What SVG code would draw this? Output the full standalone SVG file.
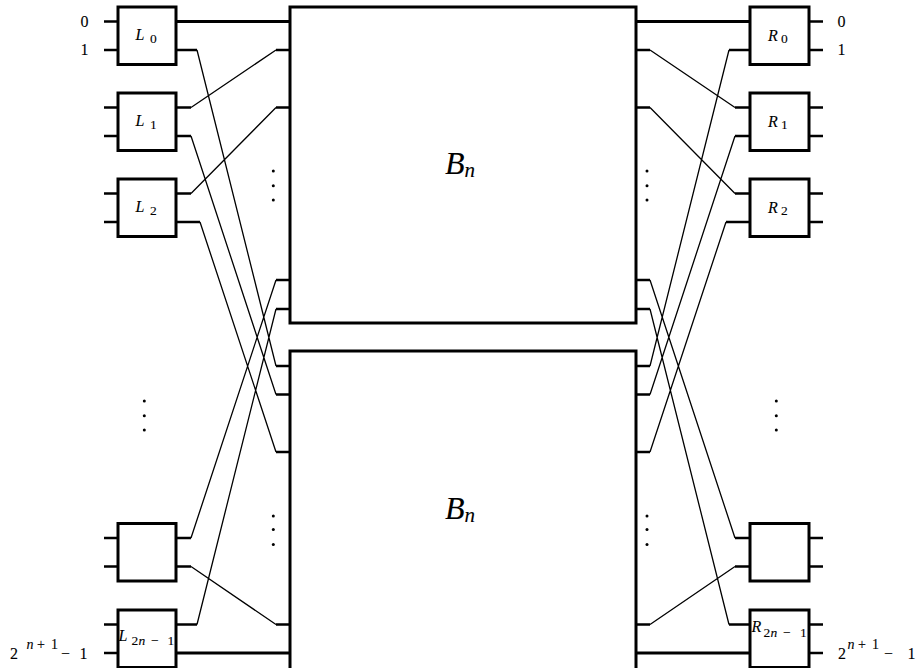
<svg xmlns="http://www.w3.org/2000/svg" width="917" height="668" viewBox="0 0 917 668">
  <style>
    .box { fill: #fff; stroke: #000; stroke-width: 3; }
    .bus { fill: none; stroke: #000; stroke-width: 3; }
    .stub { fill: none; stroke: #000; stroke-width: 2.5; }
    .wire { fill: none; stroke: #000; stroke-width: 1.3; }
    .dot { fill: #000; }
    text { font-family: "Liberation Serif", "DejaVu Serif", serif; fill: #000; stroke: #000; stroke-width: 0.1; }
    .lbl { font-size: 16px; }
    .sub { font-size: 13.5px; font-style: normal; }
    .sup { font-size: 14px; font-style: normal; }
    .it { font-style: italic; }
    .big { font-size: 32px; font-style: italic; }
    .bigsub { font-size: 21px; font-style: italic; }
  </style>

  <!-- wiring between the switch columns and the two B_n blocks -->
  <g id="connectors">
    <!-- straight thick links -->
    <path class="bus" d="M176 21.5H290 M176 653H290 M636 21.5H750 M636 653H750"/>
    <!-- outer input / output stubs -->
    <path class="stub" d="M104 21.5H118 M104 50H118 M104 107.5H118 M104 136H118 M104 193.5H118 M104 222H118
      M104 538H118 M104 566.5H118 M104 624.5H118 M104 653H118"/>
    <path class="stub" d="M809 21.5H823 M809 50H823 M809 107.5H823 M809 136H823 M809 193.5H823 M809 222H823
      M809 538H823 M809 566.5H823 M809 624.5H823 M809 653H823"/>
    <!-- left inner stubs -->
    <path class="stub" d="M176 50H197 M176 107.5H191 M176 136H191 M176 193.5H191 M176 222H200
      M176 538H191 M176 566.5H191 M176 624.5H197"/>
    <path class="stub" d="M276 50H290 M276 107.5H290 M276 280H290 M276 309H290
      M276 366H290 M276 394.5H290 M276 452H290 M276 624.5H290"/>
    <!-- right inner stubs -->
    <path class="stub" d="M636 50H650 M636 107.5H650 M636 280H650 M636 309H650
      M636 366H650 M636 394.5H650 M636 452H650 M636 624.5H650"/>
    <path class="stub" d="M729 50H750 M735 107.5H750 M735 136H750 M735 193.5H750 M726 222H750
      M735 538H750 M735 566.5H750 M729 624.5H750"/>
    <!-- left shuffle -->
    <path class="wire" d="M197 50L276 366 M191 107.5L276 50 M191 136L276 394.5 M191 193.5L276 107.5
      M200 222L276 452 M191 538L276 280 M191 566.5L276 624.5 M197 624.5L276 309"/>
    <!-- right unshuffle -->
    <path class="wire" d="M650 50L735 107.5 M650 107.5L735 193.5 M650 280L735 538 M650 309L729 624.5
      M650 366L729 50 M650 394.5L735 136 M650 452L726 222 M650 624.5L735 566.5"/>
  </g>

  <!-- recursive blocks -->
  <g id="B_top">
    <rect class="box" x="290" y="7" width="346" height="316"/>
    <text class="big" x="445" y="173.5">B<tspan class="bigsub" dy="3.5">n</tspan></text>
  </g>
  <g id="B_bottom">
    <rect class="box" x="290" y="351" width="346" height="320"/>
    <text class="big" x="445" y="518.5">B<tspan class="bigsub" dy="3.5">n</tspan></text>
  </g>

  <!-- left column of 2x2 switches -->
  <g id="L0">
    <rect class="box" x="118" y="7" width="58" height="57.5"/>
    <text class="lbl it" x="135.5" y="40">L<tspan class="sub" x="150" dy="3">0</tspan></text>
  </g>
  <g id="L1">
    <rect class="box" x="118" y="93" width="58" height="57.5"/>
    <text class="lbl it" x="135.5" y="126">L<tspan class="sub" x="150" dy="3">1</tspan></text>
  </g>
  <g id="L2">
    <rect class="box" x="118" y="179" width="58" height="57.5"/>
    <text class="lbl it" x="135.5" y="212">L<tspan class="sub" x="150" dy="3">2</tspan></text>
  </g>
  <g id="L_2n-2">
    <rect class="box" x="118" y="523.5" width="58" height="57.5"/>
  </g>
  <g id="L_2n-1">
    <rect class="box" x="118" y="610" width="58" height="57.5"/>
    <text class="lbl it" x="118.5" y="641">L<tspan class="sub" x="131.5" dy="4">2</tspan><tspan class="sub it" x="138.5">n</tspan><tspan class="sub" x="151">−</tspan><tspan class="sub" x="167.5">1</tspan></text>
  </g>

  <!-- right column of 2x2 switches -->
  <g id="R0">
    <rect class="box" x="750" y="7" width="59" height="57.5"/>
    <text class="lbl it" x="768" y="40.5">R<tspan class="sub" x="781" dy="2">0</tspan></text>
  </g>
  <g id="R1">
    <rect class="box" x="750" y="93" width="59" height="57.5"/>
    <text class="lbl it" x="768" y="126.5">R<tspan class="sub" x="781" dy="2">1</tspan></text>
  </g>
  <g id="R2">
    <rect class="box" x="750" y="179" width="59" height="57.5"/>
    <text class="lbl it" x="768" y="212.5">R<tspan class="sub" x="781" dy="2">2</tspan></text>
  </g>
  <g id="R_2n-2">
    <rect class="box" x="750" y="523.5" width="59" height="57.5"/>
  </g>
  <g id="R_2n-1">
    <rect class="box" x="750" y="610" width="59" height="57.5"/>
    <text class="lbl it" x="751.5" y="632">R<tspan class="sub" x="763.5" dy="5">2</tspan><tspan class="sub it" x="770.5">n</tspan><tspan class="sub" x="783">−</tspan><tspan class="sub" x="800">1</tspan></text>
  </g>

  <!-- line numbers -->
  <g id="port-labels">
    <text class="lbl" x="80.5" y="26.5">0</text>
    <text class="lbl" x="80.5" y="55">1</text>
    <text class="lbl" x="837.5" y="26.5">0</text>
    <text class="lbl" x="837.5" y="55">1</text>
    <text class="lbl" x="10" y="659">2<tspan class="sup it" x="26.5" y="649">n</tspan><tspan class="sup" x="37" y="649">+</tspan><tspan class="sup" x="51" y="649">1</tspan><tspan x="61" y="659">−</tspan><tspan x="79.5" y="659">1</tspan></text>
    <text class="lbl" x="838" y="659">2<tspan class="sup it" x="847.5" y="649">n</tspan><tspan class="sup" x="858" y="649">+</tspan><tspan class="sup" x="872" y="649">1</tspan><tspan x="884" y="659">−</tspan><tspan x="907.5" y="659">1</tspan></text>
  </g>

  <!-- ellipses -->
  <g id="ellipses">
    <circle class="dot" cx="144.3" cy="401" r="1.5"/>
    <circle class="dot" cx="144.3" cy="415.7" r="1.5"/>
    <circle class="dot" cx="144.3" cy="430" r="1.5"/>
    <circle class="dot" cx="776.3" cy="401" r="1.5"/>
    <circle class="dot" cx="776.3" cy="415.7" r="1.5"/>
    <circle class="dot" cx="776.3" cy="430" r="1.5"/>
    <circle class="dot" cx="273.3" cy="171" r="1.5"/>
    <circle class="dot" cx="273.3" cy="185.7" r="1.5"/>
    <circle class="dot" cx="273.3" cy="200" r="1.5"/>
    <circle class="dot" cx="273.3" cy="516" r="1.5"/>
    <circle class="dot" cx="273.3" cy="529.5" r="1.5"/>
    <circle class="dot" cx="273.3" cy="544.5" r="1.5"/>
    <circle class="dot" cx="647" cy="171" r="1.5"/>
    <circle class="dot" cx="647" cy="185.7" r="1.5"/>
    <circle class="dot" cx="647" cy="200" r="1.5"/>
    <circle class="dot" cx="647" cy="516" r="1.5"/>
    <circle class="dot" cx="647" cy="529.5" r="1.5"/>
    <circle class="dot" cx="647" cy="544.5" r="1.5"/>
  </g>
</svg>
